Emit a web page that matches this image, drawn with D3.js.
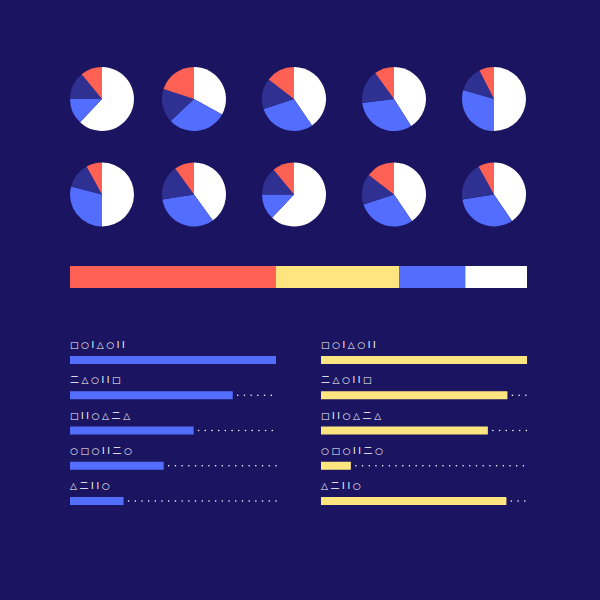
<!DOCTYPE html>
<html>
<head>
<meta charset="utf-8">
<script src="https://cdn.jsdelivr.net/npm/d3@7"></script>
<style>
  html, body { margin: 0; padding: 0; background: #1b1460; }
  svg { display: block; }
  .lbl { font-family: "DejaVu Sans", "Noto Sans CJK SC", sans-serif; font-size: 9px; fill: #ffffff; letter-spacing: 2.6px; }
</style>
</head>
<body>
<svg id="chart" width="600" height="600"></svg>
<script>
// ---------- DATA ----------
// pie slices (clockwise from 12 o'clock): white, blue, dark blue, red (percent)
const sliceKeys = ["white", "blue", "dark", "red"];
const pieRow1 = [
  [62, 13, 14, 11],
  [33, 30, 17, 20],
  [40.5, 29.5, 15.5, 14.5],
  [41, 32, 17, 10],
  [50, 29.5, 13, 7.5]
];
const pieRow2 = [
  [50, 29, 13, 8],
  [40, 32.5, 17.5, 10],
  [62, 13, 14, 11],
  [40.5, 29.5, 15.5, 14.5],
  [40.5, 32, 19.5, 8]
];
// stacked bar: red, yellow, blue, white (percent)
const stackKeys = ["red", "yellow", "blue", "white"];
const stackValues = [45, 27, 14.5, 13.5];
// bar lists
const barLabels = ["□○I△○II", "二△○II□", "□II○△二△", "○□○II二○", "△二II○"];
const leftValues = [100, 79, 60, 45.5, 26];
const rightValues = [100, 90.5, 81, 14.5, 90];

// ---------- STYLE ----------
const colors = {
  white: "#ffffff",
  blue: "#536dfe",
  dark: "#2e3192",
  red: "#ff6155",
  yellow: "#ffe57f"
};

const svg = d3.select("#chart");
svg.append("rect").attr("width", 600).attr("height", 600).attr("fill", "#1b1460");

// ---------- PIES ----------
const r = 32;
const left = 70, right = 527;
const colX = d3.scalePoint().domain(d3.range(5)).range([94, 494]);
const rowY = d3.scalePoint().domain([0, 1]).range([99, 194.5]);
const pie = d3.pie().sort(null).value(d => d.v);
const arc = d3.arc().innerRadius(0).outerRadius(r);

[pieRow1, pieRow2].forEach((row, ri) => {
  row.forEach((vals, ci) => {
    const cx = Math.max(colX(ci), left + r);
    const g = svg.append("g").attr("transform", `translate(${cx},${rowY(ri)})`);
    g.selectAll("path")
      .data(pie(vals.map((v, i) => ({ k: sliceKeys[i], v }))))
      .join("path")
      .attr("d", arc)
      .attr("fill", d => colors[d.data.k]);
  });
});

// ---------- STACKED BAR ----------
const sx = d3.scaleLinear().domain([0, d3.sum(stackValues)]).range([left, right]);
let acc = 0;
const stackData = stackValues.map((v, i) => { const d = { k: stackKeys[i], x0: acc, x1: acc + v }; acc += v; return d; });
svg.append("g").selectAll("rect")
  .data(stackData)
  .join("rect")
  .attr("x", d => sx(d.x0))
  .attr("width", d => sx(d.x1) - sx(d.x0))
  .attr("y", 266)
  .attr("height", 22)
  .attr("fill", d => colors[d.k]);

// ---------- BAR LISTS ----------
const rowScale = d3.scaleLinear().domain([0, 4]).range([356, 497]);
function barGroup(x0, values, color) {
  const bx = d3.scaleLinear().domain([0, 100]).range([x0, x0 + 206]);
  const g = svg.append("g");
  const rows = g.selectAll("g").data(values).join("g")
    .attr("transform", (d, i) => `translate(0,${rowScale(i)})`);
  rows.append("text")
    .attr("class", "lbl")
    .attr("x", x0)
    .attr("y", -8)
    .text((d, i) => barLabels[i]);
  rows.append("line")
    .attr("x1", d => bx(d) + 5)
    .attr("x2", bx(100) + 0.5)
    .attr("y1", 4).attr("y2", 4)
    .attr("stroke", "#ffffff")
    .attr("stroke-width", 1.6)
    .attr("stroke-linecap", "round")
    .attr("stroke-dasharray", "0 6.7")
    .attr("display", d => d >= 100 ? "none" : null);
  rows.append("rect")
    .attr("x", bx(0))
    .attr("y", 0)
    .attr("width", d => bx(d) - bx(0))
    .attr("height", 8)
    .attr("fill", color);
}
barGroup(70, leftValues, colors.blue);
barGroup(321, rightValues, colors.yellow);
</script>
</body>
</html>
